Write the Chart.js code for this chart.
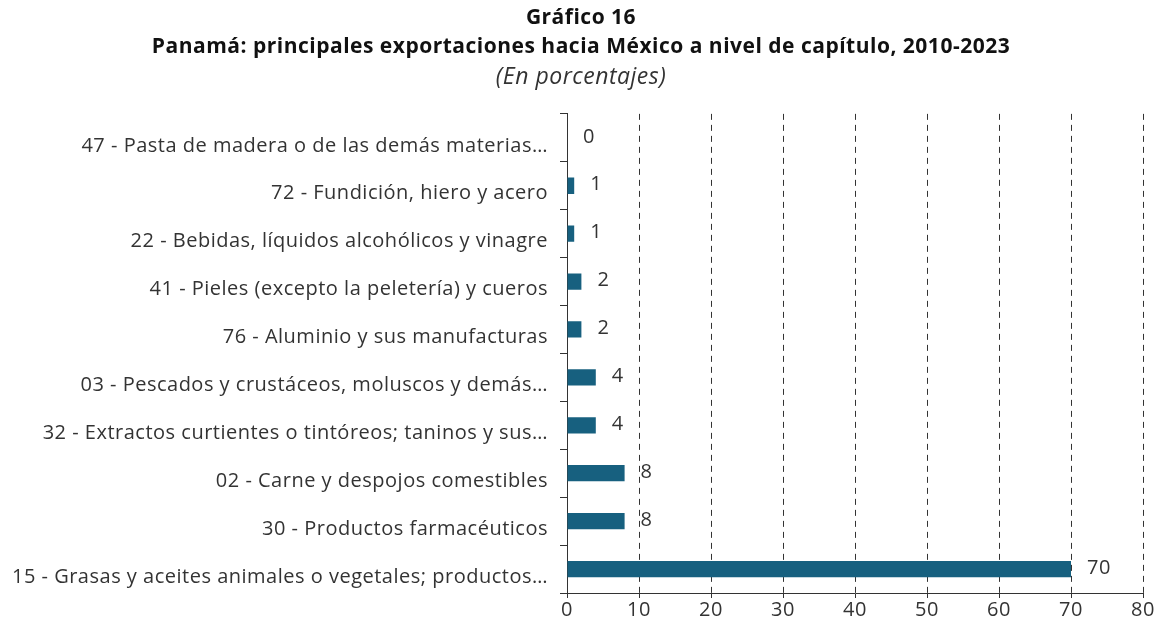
<!DOCTYPE html>
<html>
<head>
<meta charset="utf-8">
<script src="https://cdn.jsdelivr.net/npm/chart.js@4"></script>
<style>
  html, body { margin: 0; padding: 0; background: #fff; }
  #wrap { width: 1158px; height: 627px; }
</style>
</head>
<body>
<div id="wrap"><canvas id="chart" width="1158" height="627"></canvas></div>
<script>
// Chapter labels (already shortened as in the source chart)
const categories = [
    "47 - Pasta de madera o de las demás materias…",
    "72 - Fundición, hiero y acero",
    "22 - Bebidas, líquidos alcohólicos y vinagre",
    "41 - Pieles (excepto la peletería) y cueros",
    "76 - Aluminio y sus manufacturas",
    "03 - Pescados y crustáceos, moluscos y demás…",
    "32 - Extractos curtientes o tintóreos; taninos y sus…",
    "02 - Carne y despojos comestibles",
    "30 - Productos farmacéuticos",
    "15 - Grasas y aceites animales o vegetales; productos…"
];

// Share of exports, in percent
const shares = [0, 1, 1, 2, 2, 4, 4, 8, 8, 70];

const titleLines = [
    "Gráfico 16",
    "Panamá: principales exportaciones hacia México a nivel de capítulo, 2010-2023"
];
const subtitleText = "(En porcentajes)";

const fontFamily = "'Open Sans', sans-serif";
const textColor = "#333333";
const barColor = "#17607f";

// Slightly wider letter spacing, closer to the original typeface
const spacing = {
    id: "spacing",
    beforeInit(chart) { chart.ctx.letterSpacing = "0.5px"; },
    beforeUpdate(chart) { chart.ctx.letterSpacing = "0.5px"; },
    beforeDraw(chart) { chart.ctx.letterSpacing = "0.5px"; }
};

// Draw the value to the right of each bar
const valueLabels = {
    id: "valueLabels",
    afterDatasetsDraw(chart)
    {
	const ctx = chart.ctx;
	const meta = chart.getDatasetMeta(0);
	ctx.save();
	ctx.font = "20px " + fontFamily;
	ctx.fillStyle = textColor;
	ctx.textAlign = "left";
	ctx.textBaseline = "middle";
	meta.data.forEach(function (bar, i)
	{
	    ctx.fillText(String(shares[i]), bar.x + 16, bar.y - 1);
	});
	ctx.restore();
    }
};

new Chart(document.getElementById("chart"),
{
    type: "bar",
    plugins: [spacing, valueLabels],
    data:
    {
	labels: categories,
	datasets:
	[
	    {
		data: shares,
		backgroundColor: barColor,
		barPercentage: 0.34,
		categoryPercentage: 1.0
	    }
	]
    },
    options:
    {
	indexAxis: "y",
	responsive: false,
	animation: false,
	layout: { padding: { left: 8, right: 4, top: 0, bottom: 5 } },
	plugins:
	{
	    legend: { display: false },
	    tooltip: { enabled: false },
	    title:
	    {
		display: true,
		text: titleLines,
		color: "#111111",
		font: { family: fontFamily, size: 21, weight: "bold", lineHeight: 1.38 },
		padding: { top: 4, bottom: 0 }
	    },
	    subtitle:
	    {
		display: true,
		text: subtitleText,
		color: textColor,
		font: { family: fontFamily, size: 23, style: "italic", lineHeight: 1.3 },
		padding: { top: 1, bottom: 21 }
	    }
	},
	scales:
	{
	    x:
	    {
		min: 0,
		max: 80,
		// keep room on the right for the last tick label
		afterFit: function (scale) { scale.paddingRight = 15; },
		ticks:
		{
		    stepSize: 10,
		    color: textColor,
		    font: { family: fontFamily, size: 20 },
		    padding: 0
		},
		grid:
		{
		    color: function (c) { return c.tick && c.tick.value === 0 ? "rgba(0,0,0,0)" : "#333333"; },
		    tickColor: "#333333",
		    tickLength: 5,
		    tickBorderDash: [],
		    lineWidth: 1
		},
		border: { display: true, color: "#333333", width: 1, dash: [6, 5] }
	    },
	    y:
	    {
		afterFit: function (scale) { scale.width = 559; },
		ticks:
		{
		    color: textColor,
		    font: { family: fontFamily, size: 20 },
		    padding: 12,
		    labelOffset: 8
		},
		grid:
		{
		    offset: true,
		    drawOnChartArea: false,
		    color: "#333333",
		    tickLength: 7
		},
		border: { display: true, color: "#333333", width: 1 }
	    }
	}
    }
});
</script>
</body>
</html>
